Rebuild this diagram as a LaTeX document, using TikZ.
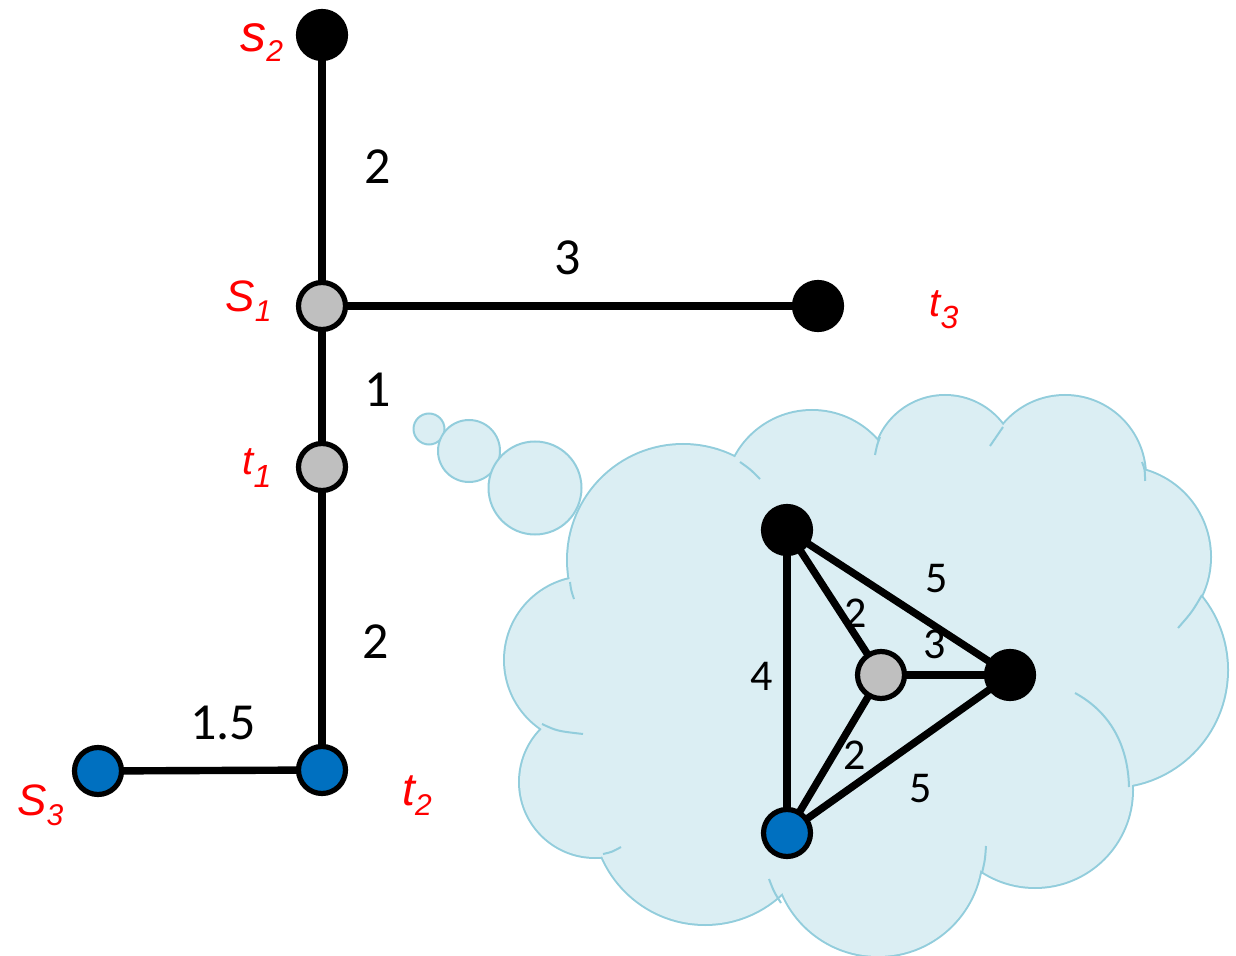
\documentclass[tikz,border=0pt]{standalone}
\usepackage{fontspec}
\setmainfont{Carlito}
\newfontfamily\arialf{Liberation Sans}
\pgfdeclarelayer{cloudlayer}
\pgfdeclarelayer{edgelayer}
\pgfsetlayers{cloudlayer,edgelayer,main}
\definecolor{cloudfill}{RGB}{219,238,243}
\definecolor{cloudline}{RGB}{146,205,220}
\definecolor{nodegray}{RGB}{191,191,191}
\definecolor{nodeblue}{RGB}{0,112,192}
\newcommand\rl[5]{{\fontsize{#1}{#1}\selectfont #3}\raisebox{-#5}{\fontsize{#2}{#2}\selectfont #4}}
\tikzset{
 vtx/.style={circle, draw=black, line width=2.6pt, minimum size=23.5pt, inner sep=0pt, outer sep=0pt},
 blk/.style={vtx, fill=black},
 gry/.style={vtx, fill=nodegray},
 blu/.style={vtx, fill=nodeblue},
 edgeline/.style={line width=3.7pt},
 wt/.style={inner sep=0pt, font=\fontsize{26}{26}\selectfont},
 cwt/.style={inner sep=0pt, font=\fontsize{22}{22}\selectfont},
 rlab/.style={inner sep=0pt, anchor=base west, text=red, font=\arialf\itshape},
 cloudedge/.style={draw=cloudline, line width=1pt},
}
\begin{document}
\begin{tikzpicture}[x=0.5pt, y=-0.5pt]
\useasboundingbox (0,0) rectangle (1236,956);

% ---------- cloud ----------
\begin{pgfonlayer}{cloudlayer}
 \foreach \cx/\cy/\r in {683/560/115, 812/498/87, 945/468/72, 1065/476/80, 1120/557/90, 1110/670/117, 1035/790/97, 878/852/104, 705/812/112, 595/782/75, 588/660/83}
  \draw[cloudline, line width=2pt] (\cx,\cy) circle (\r);
 \foreach \cx/\cy/\r in {683/560/115, 812/498/87, 945/468/72, 1065/476/80, 1120/557/90, 1110/670/117, 1035/790/97, 878/852/104, 705/812/112, 595/782/75, 588/660/83}
  \fill[cloudfill] (\cx,\cy) circle (\r);
 \fill[cloudfill] (683,560) -- (812,498) -- (945,468) -- (1065,476) -- (1120,557) -- (1110,670) -- (1035,790) -- (878,852) -- (705,812) -- (595,782) -- (588,660) -- cycle;
 % inner tails
 \draw[cloudedge] (570,582) .. controls (571,590) .. (574,599);
 \draw[cloudedge] (740,462) .. controls (750,469) .. (760,479);
 \draw[cloudedge] (880,437) .. controls (877,445) .. (875,455);
 \draw[cloudedge] (1003,427) .. controls (996,436) .. (990,446);
 \draw[cloudedge] (1142,462) .. controls (1145,470) .. (1145,481);
 \draw[cloudedge] (1202,595) .. controls (1192,612) .. (1178,628);
 \draw[cloudedge] (1075,693) .. controls (1110,712) and (1128,745) .. (1129,787);
 \draw[cloudedge] (982,873) .. controls (985,860) .. (986,846);
 \draw[cloudedge] (781,903) .. controls (774,892) .. (769,879);
 \draw[cloudedge] (603,854) .. controls (612,852) .. (621,847);
 \draw[cloudedge] (542,724) .. controls (557,731) .. (583,734);
 % thought bubbles
 \draw[cloudline, fill=cloudfill, line width=1pt] (429,429) circle (15.5);
 \draw[cloudline, fill=cloudfill, line width=1pt] (469,451) circle (31);
 \draw[cloudline, fill=cloudfill, line width=1pt] (535,488) circle (46.5);
\end{pgfonlayer}

% ---------- tree nodes ----------
\node[blk] (s2) at (322,35) {};
\node[gry] (s1) at (322,306) {};
\node[blk] (t3) at (818,306) {};
\node[gry] (t1) at (322,467) {};
\node[blu] (t2) at (322,770) {};
\node[blu] (s3) at (98,771) {};

% ---------- cloud nodes ----------
\node[blk] (ca) at (787,530) {};
\node[gry] (cg) at (881,675) {};
\node[blk] (cb) at (1010,675) {};
\node[blu] (cc) at (787,833) {};

% ---------- edges ----------
\begin{pgfonlayer}{edgelayer}
 \draw[edgeline] (s2) -- (s1);
 \draw[edgeline] (s1) -- (t3);
 \draw[edgeline] (s1) -- (t1);
 \draw[edgeline] (t1) -- (t2);
 \draw[edgeline] (s3) -- (t2);
 \draw[edgeline] (ca) -- (cc);
 \draw[edgeline] (ca) -- (cg);
 \draw[edgeline] (ca) -- (cb);
 \draw[edgeline] (cg) -- (cb);
 \draw[edgeline] (cg) -- (cc);
 \draw[edgeline] (cb) -- (cc);
\end{pgfonlayer}

% ---------- weights ----------
\node[wt] (w1) at (378,167) {2};
\node[wt] (w2) at (568,258) {3};
\node[wt] (w3) at (378,390) {1};
\node[wt] (w4) at (376,642) {2};
\node[wt] (w5) at (223,723) {1.5};
\node[cwt] (w6) at (937,579) {5};
\node[cwt] (w7) at (856,613) {2};
\node[cwt] (w8) at (935,644) {3};
\node[cwt] (w9) at (762,676) {4};
\node[cwt] (w10) at (855,755) {2};
\node[cwt] (w11) at (921,789) {5};

% ---------- red labels ----------
\node[rlab] (ls2) at (240,52) {\rl{26}{15}{s}{2}{5pt}};
\node[rlab] (ls1) at (225,312) {\rl{22}{15}{S}{1}{5pt}};
\node[rlab] (lt3) at (929,317) {\rl{20}{16}{t}{3}{6pt}};
\node[rlab] (lt1) at (242,475) {\rl{20}{16}{t}{1}{6pt}};
\node[rlab] (lt2) at (402,805) {\rl{23}{15}{t}{2}{5pt}};
\node[rlab] (ls3) at (17,815) {\rl{22}{15}{S}{3}{5pt}};
\end{tikzpicture}
\end{document}
